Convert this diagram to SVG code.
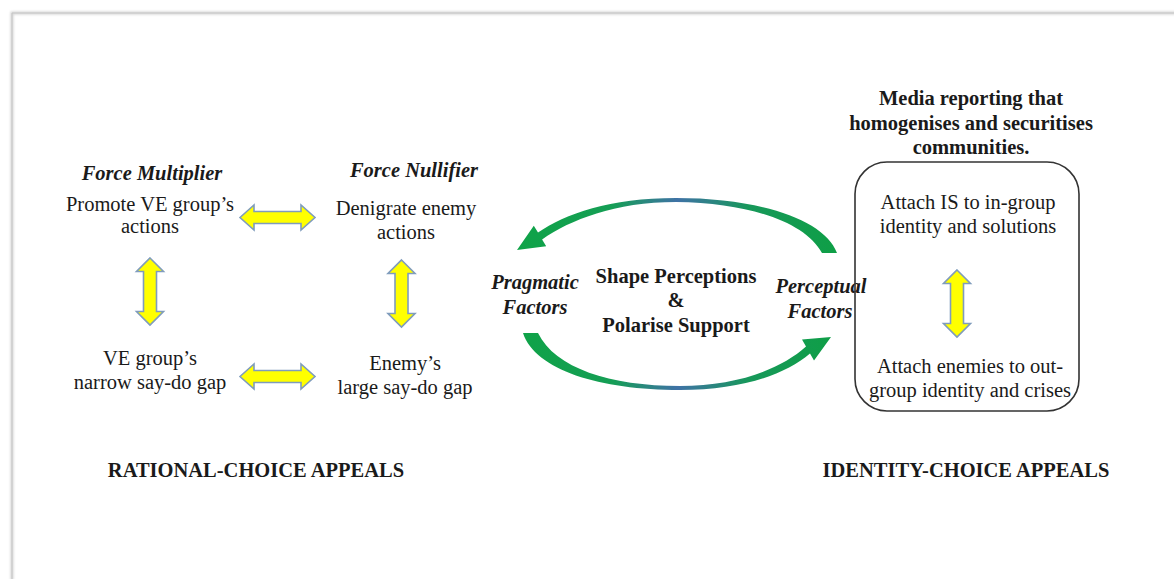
<svg xmlns="http://www.w3.org/2000/svg" width="1174" height="579" viewBox="0 0 1174 579">
  <style>
    text { font-family: "Liberation Serif", "Times New Roman", serif; font-size: 20.5px; fill: #1a1a1a; text-anchor: middle; }
    .b { font-weight: bold; }
    .bi { font-weight: bold; font-style: italic; }
    .dbl { fill: #FFFF00; stroke: #7F9CBC; stroke-width: 1.6; stroke-linejoin: miter; }
    .cycle { stroke: none; }
  </style>
  <defs>
    <!-- double-headed block arrows -->
    <path id="dblH" d="M -37.5,0 L -23.5,-12.5 L -23.5,-6 L 23.5,-6 L 23.5,-12.5 L 37.5,0 L 23.5,12.5 L 23.5,6 L -23.5,6 L -23.5,12.5 Z"/>
    <path id="dblV" d="M 0,-33.5 L 13.5,-20 L 6.5,-20 L 6.5,20 L 13.5,20 L 0,33.5 L -13.5,20 L -6.5,20 L -6.5,-20 L -13.5,-20 Z"/>
    <linearGradient id="arcGrad" gradientUnits="userSpaceOnUse" x1="515" y1="0" x2="840" y2="0">
      <stop offset="0" stop-color="#0FA347"/>
      <stop offset="0.3" stop-color="#159E55"/>
      <stop offset="0.5" stop-color="#3F72A6"/>
      <stop offset="0.72" stop-color="#17985A"/>
      <stop offset="1" stop-color="#0E9F45"/>
    </linearGradient>
    <filter id="soft" x="-5%" y="-5%" width="110%" height="110%">
      <feGaussianBlur stdDeviation="1.2"/>
    </filter>
  </defs>

  <rect width="1174" height="579" fill="#ffffff"/>

  <!-- page frame -->
  <g id="frame">
    <path d="M 12,580 L 12,13 L 1176,13" fill="none" stroke="#d6d6d6" stroke-width="3" filter="url(#soft)"/>
    <path d="M 12,580 L 12,13 L 1176,13" fill="none" stroke="#c4c4c4" stroke-width="1"/>
  </g>

  <!-- rational-choice quadrant -->
  <g id="force-multiplier">
    <text class="bi" x="152" y="180">Force Multiplier</text>
    <text x="150" y="211">Promote VE group’s</text>
    <text x="150" y="233">actions</text>
  </g>
  <g id="force-nullifier">
    <text class="bi" x="414" y="177">Force Nullifier</text>
    <text x="406" y="215">Denigrate enemy</text>
    <text x="406" y="239">actions</text>
  </g>
  <g id="ve-gap">
    <text x="150" y="365">VE group’s</text>
    <text x="150" y="389">narrow say-do gap</text>
  </g>
  <g id="enemy-gap">
    <text x="405" y="370">Enemy’s</text>
    <text x="405" y="394">large say-do gap</text>
  </g>

  <!-- centre -->
  <g id="centre">
    <text class="b" x="676" y="283">Shape Perceptions</text>
    <text class="b" x="676" y="307">&amp;</text>
    <text class="b" x="676" y="332">Polarise Support</text>
  </g>
  <g id="pragmatic">
    <text class="bi" x="535" y="289">Pragmatic</text>
    <text class="bi" x="535" y="314">Factors</text>
  </g>
  <g id="perceptual">
    <text class="bi" x="821" y="293">Perceptual</text>
    <text class="bi" x="820" y="318">Factors</text>
  </g>

  <!-- identity-choice box -->
  <g id="media">
    <text class="b" x="971" y="105">Media reporting that</text>
    <text class="b" x="971" y="130">homogenises and securitises</text>
    <text class="b" x="971" y="154">communities.</text>
    <rect x="855" y="162" width="224" height="249" rx="32" ry="32" fill="none" stroke="#333333" stroke-width="1.6"/>
    <text x="968" y="209">Attach IS to in-group</text>
    <text x="968" y="233">identity and solutions</text>
    <text x="970" y="373">Attach enemies to out-</text>
    <text x="970" y="397">group identity and crises</text>
  </g>

  <!-- footer labels -->
  <g id="rational-label">
    <text class="b" x="256" y="477">RATIONAL-CHOICE APPEALS</text>
  </g>
  <g id="identity-label">
    <text class="b" x="966" y="477">IDENTITY-CHOICE APPEALS</text>
  </g>

  <!-- connectors -->
  <g id="connectors">
    <use href="#dblH" class="dbl" x="277.5" y="217.5"/>
    <use href="#dblH" class="dbl" x="277.5" y="376.5"/>
    <use href="#dblV" class="dbl" x="150" y="291.5"/>
    <use href="#dblV" class="dbl" x="401.5" y="293.5"/>
    <use href="#dblV" class="dbl" x="957" y="303.5"/>
    <!-- upper arc: perceptual to pragmatic -->
    <path class="cycle" fill="url(#arcGrad)" d="M 837,253 C 825,220 760,198 676,198 C 610,198 565,214 538,232.6 L 533.8,225.8 L 517,250 L 546.2,246.2 L 542.1,239.4 C 570,220 615,202 676,202 C 750,203 805,222 822,253 Z"/>
    <!-- lower arc: pragmatic to perceptual -->
    <path class="cycle" fill="url(#arcGrad)" d="M 523,333 C 535,370 600,390 680,390 C 740,390 785,375 810,353.5 L 814,360.4 L 831,337 L 802,339.6 L 806,346.5 C 780,370 735,386 680,386 C 610,386 555,368 538,333 Z"/>
  </g>
</svg>
